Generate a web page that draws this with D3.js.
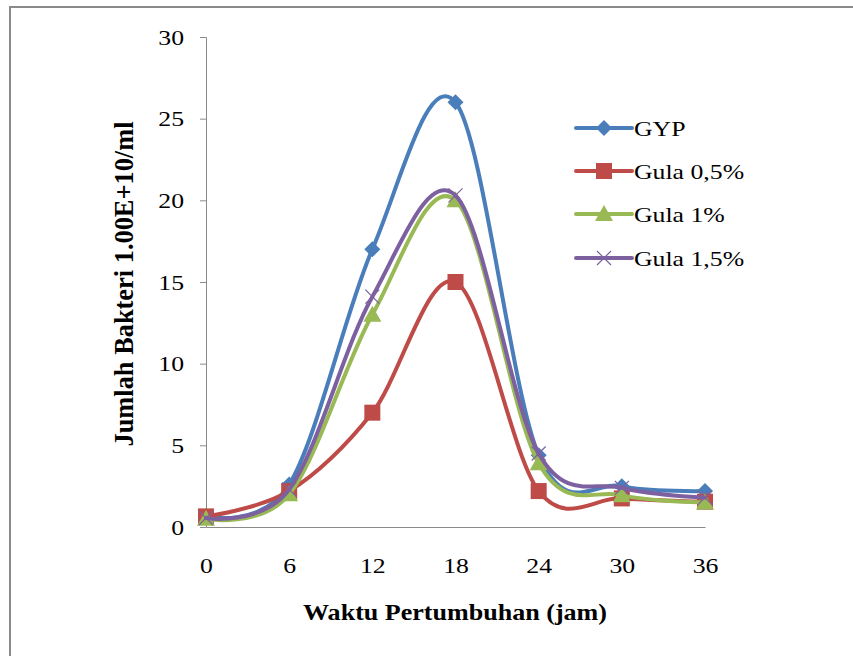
<!DOCTYPE html>
<html>
<head>
<meta charset="utf-8">
<script src="https://cdn.jsdelivr.net/npm/d3@7"></script>
<style>
  body { margin: 0; background: #fff; }
  svg text { font-family: "Liberation Serif", "Times New Roman", serif; }
</style>
</head>
<body>
<svg id="chart" width="853" height="656"></svg>
<script>
// growth curve chart, smoothed lines like excel

const hours = [0, 6, 12, 18, 24, 30, 36];
const yTicks = [0, 5, 10, 15, 20, 25, 30];

const seriesNames = ["GYP", "Gula 0,5%", "Gula 1%", "Gula 1,5%"];
const gyp = [0.65, 2.6, 17, 26, 4.4, 2.5, 2.2];
const gula05 = [0.65, 2.2, 7, 15, 2.2, 1.75, 1.55];
const gula1 = [0.5, 2.0, 13, 20, 3.9, 1.95, 1.5];
const gula15 = [0.55, 2.3, 14.1, 20.3, 4.5, 2.4, 1.8];

const colors = ["#4a7ebb", "#be4b48", "#98b954", "#7d60a0"];
const shapes = ["diamond", "square", "triangle", "cross"];

const STRETCH = 1.17; // the original picture is a bit wider than tall

const svg = d3.select("#chart");

// outer frame (cut off at right/bottom in original)
svg.append("rect")
  .attr("x", 10).attr("y", 7)
  .attr("width", 900).attr("height", 700)
  .attr("fill", "none")
  .attr("stroke", "#8a8a8a")
  .attr("stroke-width", 2);

const x = d3.scaleLinear().domain([0, 36]).range([206, 705]);
const y = d3.scaleLinear().domain([0, 30]).range([527, 37]);

// y axis
const yAxis = svg.append("g")
  .attr("transform", "translate(206,0)")
  .call(d3.axisLeft(y).tickValues(yTicks).tickSize(6).tickPadding(16));
yAxis.select(".domain").attr("stroke", "#8a8a8a");
yAxis.selectAll(".tick line").attr("stroke", "#8a8a8a");
yAxis.selectAll("text")
  .attr("font-size", 22)
  .attr("fill", "#000")
  .style("font-family", "Liberation Serif");

// x axis (no tick marks)
const xAxis = svg.append("g")
  .attr("transform", "translate(0,527)")
  .call(d3.axisBottom(x).tickValues(hours).tickSize(0).tickPadding(30).tickSizeOuter(0));
xAxis.select(".domain").attr("stroke", "#8a8a8a");
xAxis.selectAll("text")
  .attr("font-size", 22)
  .attr("fill", "#000")
  .style("font-family", "Liberation Serif");

// titles
svg.append("text")
  .attr("x", 455).attr("y", 620)
  .attr("text-anchor", "middle")
  .attr("font-size", 23)
  .attr("font-weight", "bold")
  .attr("textLength", 304)
  .attr("lengthAdjust", "spacingAndGlyphs")
  .text("Waktu Pertumbuhan (jam)");

svg.append("text")
  .attr("class", "nostretch")
  .attr("transform", `translate(133,284) scale(${STRETCH},1) rotate(-90)`)
  .attr("text-anchor", "middle")
  .attr("font-size", 23)
  .attr("font-weight", "bold")
  .attr("textLength", 325)
  .attr("lengthAdjust", "spacingAndGlyphs")
  .text("Jumlah Bakteri 1.00E+10/ml");

const allSeries = [gyp, gula05, gula1, gula15];

const line = d3.line()
  .x((d, i) => x(hours[i]))
  .y(d => y(d))
  .curve(d3.curveCatmullRom.alpha(0));

function drawMarker(g, shape, color, cx, cy)
{
  if (shape === "diamond")
  {
    g.append("path")
      .attr("d", `M${cx},${cy - 8}L${cx + 8},${cy}L${cx},${cy + 8}L${cx - 8},${cy}Z`)
      .attr("fill", color);
  } else if (shape === "square")
  {
    g.append("rect")
      .attr("x", cx - 8).attr("y", cy - 8)
      .attr("width", 16).attr("height", 16)
      .attr("fill", color);
  } else if (shape === "triangle")
  {
    g.append("path")
      .attr("d", `M${cx},${cy - 9}L${cx + 9},${cy + 7}L${cx - 9},${cy + 7}Z`)
      .attr("fill", color);
  } else
  {
    g.append("path")
      .attr("d", `M${cx - 7},${cy - 7}L${cx + 7},${cy + 7}M${cx + 7},${cy - 7}L${cx - 7},${cy + 7}`)
      .attr("stroke", color)
      .attr("stroke-width", 1.2)
      .attr("fill", "none");
  }
}

allSeries.forEach((vals, s) => {
  const g = svg.append("g");
  g.append("path")
    .datum(vals)
    .attr("d", line)
    .attr("fill", "none")
    .attr("stroke", colors[s])
    .attr("stroke-width", 4)
    .attr("stroke-linecap", "round");
  vals.forEach((v, i) => drawMarker(g, shapes[s], colors[s], x(hours[i]), y(v)));
});

// legend
const legendY = [128, 171, 214, 258];
seriesNames.forEach((name, s) => {
  const g = svg.append("g");
  g.append("line")
    .attr("x1", 576).attr("x2", 632)
    .attr("y1", legendY[s]).attr("y2", legendY[s])
    .attr("stroke", colors[s])
    .attr("stroke-width", 4)
    .attr("stroke-linecap", "round");
  drawMarker(g, shapes[s], colors[s], 604, legendY[s]);
  g.append("text")
    .attr("x", 634).attr("y", legendY[s] + 8)
    .attr("font-size", 22)
    .text(name);
});

// widen the plain texts like the source picture
svg.selectAll("text").each(function() {
  let t = d3.select(this);
  if (t.attr("textLength") || t.classed("nostretch")) return;
  let w = this.getComputedTextLength();
  t.attr("textLength", w * STRETCH).attr("lengthAdjust", "spacingAndGlyphs");
});
</script>
</body>
</html>
